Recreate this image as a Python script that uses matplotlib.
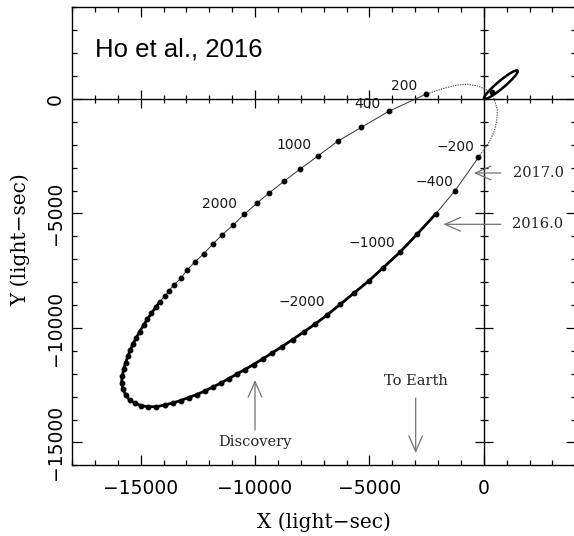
import numpy as np
import matplotlib.pyplot as plt
from matplotlib.patches import Ellipse
from matplotlib.ticker import MultipleLocator

# Pulsar orbit in light-sec, one dot every 200 days from periastron
step = 200
# after periastron: +200, +400, ... on toward apastron
upper_x = [-2544, -4154, -5351, -6390, -7250, -8026, -8715, -9373, -9925, -10469,
           -10952, -11434, -11855, -12237, -12618, -12969, -13246, -13553, -13759,
           -13947, -14167, -14342, -14531, -14706, -14869, -15044, -15189, -15338,
           -15452, -15557, -15658, -15746, -15803, -15833, -15776, -15658, -15483,
           -15233, -14970, -14680, -14312]
upper_y = [205, -537, -1236, -1847, -2489, -3057, -3581, -4092, -4555, -5035,
           -5502, -5926, -6345, -6756, -7105, -7468, -7830, -8123, -8372,
           -8603, -8852, -9097, -9359, -9621, -9869, -10162, -10424, -10699,
           -10961, -11223, -11516, -11804, -12097, -12389, -12678, -12926, -13145,
           -13289, -13394, -13437, -13437]
# before periastron: -200, -400, ... back toward apastron
lower_x = [-232, -1259, -2105, -2908, -3671, -4399, -5031, -5689, -6272, -6855,
           -7368, -7873, -8355, -8816, -9254, -9671, -10066, -10439, -10790, -11140,
           -11491, -11842, -12193, -12544, -12895, -13246, -13597, -13947]
lower_y = [-2546, -4004, -5022, -5895, -6695, -7367, -7948, -8485, -8965, -9433,
           -9826, -10175, -10503, -10808, -11092, -11354, -11594, -11813, -12009, -12206,
           -12402, -12577, -12752, -12905, -13035, -13166, -13276, -13363]
# fast swing round periastron, between the -200 d and +200 d dots
peri_x = [0, 263, 461, 570, 592, 482, 338, 88, -263, -702, -1154, -1741]
peri_y = [-2227, -1834, -1397, -917, -480, -87, 293, 415, 568, 642, 611, 467]
peri_dot = (338, 293)

# stretch drawn heavy: from +4200 d round apastron to -600 d
heavy_from = 4200
heavy_to = -600

# companion orbit about the centre of mass
comp_center = (746, 624)
comp_length = 1910
comp_width = 320
comp_angle = 40

labelled_days = [200, 400, 1000, 2000, -200, -400, -1000, -2000]
label_offsets = {200: (-15.5, 6), 400: (-15.5, 5.3), 1000: (-17, 8), 2000: (-18.2, 7.4),
                 -200: (-16.6, 7.6), -400: (-14.6, 6.5), -1000: (-19.9, 6.9),
                 -2000: (-18, 9.1)}

side_events = ['2017.0', '2016.0']
side_head_x = [-438, -1765]
side_head_y = [-3231, -5472]
side_tail_x = 745
side_text_x = [1270, 1213]

fig = plt.figure(figsize=(5.74, 5.36), dpi=100)
ax = fig.add_axes([72 / 574, 1 - 465.4 / 536, 503.5 / 574, 458 / 536])
ax.set_xlim(-18000, 4000 * 503.5 / 502.5)
ax.set_ylim(-16000, 4000)

# axes through the origin with ticks crossing them
ax.axhline(0, color='k', lw=1.0)
ax.axvline(0, color='k', lw=1.0)
xt = np.arange(-17000, 4000, 1000)
yt = np.arange(-15000, 4000, 1000)
xt_maj = xt[(xt % 5000 == 0) & (xt != 0)]
xt_min = xt[(xt % 5000 != 0)]
yt_maj = yt[(yt % 5000 == 0) & (yt != 0)]
yt_min = yt[(yt % 5000 != 0)]
ax.plot(xt_min, np.zeros(len(xt_min)), ls='none', marker='|', ms=6, mew=0.9, color='k')
ax.plot(xt_maj, np.zeros(len(xt_maj)), ls='none', marker='|', ms=13, mew=0.9, color='k')
ax.plot(np.zeros(len(yt_min)), yt_min, ls='none', marker='_', ms=6, mew=0.9, color='k')
ax.plot(np.zeros(len(yt_maj)), yt_maj, ls='none', marker='_', ms=13, mew=0.9, color='k')

# orbit line
ax.plot(upper_x + lower_x[::-1], upper_y + lower_y[::-1], color='0.2', lw=0.7)
ax.plot([lower_x[0]] + peri_x + [upper_x[0]], [lower_y[0]] + peri_y + [upper_y[0]],
        color='0.3', lw=0.8, ls=(0, (1.2, 1.0)))
i0 = heavy_from // step - 1
i1 = -heavy_to // step - 1
ax.plot(upper_x[i0:] + lower_x[::-1][:len(lower_x) - i1],
        upper_y[i0:] + lower_y[::-1][:len(lower_y) - i1],
        color='k', lw=2.0, solid_capstyle='round', solid_joinstyle='round')

ax.plot(upper_x, upper_y, 'o', color='k', ms=3.2)
ax.plot(lower_x, lower_y, 'o', color='k', ms=3.2)
ax.plot(*peri_dot, 'o', color='k', ms=3.2)

for d in labelled_days:
    i = abs(d) // step - 1
    px, py = (upper_x[i], upper_y[i]) if d > 0 else (lower_x[i], lower_y[i])
    ax.annotate(str(d).replace('-', '\u2212'), (px, py), xytext=label_offsets[d],
                textcoords='offset points', ha='center', va='center',
                fontsize=10, family='DejaVu Sans', color='0.1')

ax.add_patch(Ellipse(comp_center, comp_length, comp_width, angle=comp_angle,
                     fill=False, ec='k', lw=1.8))

# epoch markers
arrow = dict(arrowstyle='->,head_length=0.8,head_width=0.35', color='0.45', lw=0.9,
             shrinkA=0, shrinkB=0, mutation_scale=14)
for name, hx, hy, tx in zip(side_events, side_head_x, side_head_y, side_text_x):
    ax.annotate('', xy=(hx, hy), xytext=(side_tail_x, hy), arrowprops=arrow)
    ax.text(tx, hy, name, ha='left', va='center', fontsize=10.5,
            family='DejaVu Serif', color='0.15')

ax.annotate('', xy=(-10000, -12271), xytext=(-10000, -14454), arrowprops=arrow)
ax.text(-10000, -14965, 'Discovery', ha='center', va='center', fontsize=10.5,
        family='DejaVu Serif', color='0.15')
ax.annotate('', xy=(-2978, -15459), xytext=(-2978, -13057), arrowprops=arrow)
ax.text(-2978, -12314, 'To Earth', ha='center', va='center', fontsize=10.5,
        family='DejaVu Serif', color='0.15')

ax.xaxis.set_major_locator(MultipleLocator(5000))
ax.yaxis.set_major_locator(MultipleLocator(5000))
ax.xaxis.set_minor_locator(MultipleLocator(1000))
ax.yaxis.set_minor_locator(MultipleLocator(1000))
ax.tick_params(which='both', direction='in', top=True, right=True, width=0.9,
               labelsize=13.5, colors='k')
ax.tick_params(which='major', length=7.2)
ax.tick_params(which='minor', length=3.6)
ax.tick_params(axis='x', pad=10)
ax.tick_params(axis='y', pad=5)
for lab in ax.get_yticklabels():
    lab.set_rotation(90)
    lab.set_va('center')
for sp in ax.spines.values():
    sp.set_linewidth(1.0)

fig.text(324 / 574, 1 - 522 / 536, 'X (light\u2212sec)', ha='center', va='center',
         fontsize=14.5, family='DejaVu Serif')
fig.text(20 / 574, 1 - 240 / 536, 'Y (light\u2212sec)', ha='center', va='center',
         rotation=90, fontsize=14.5, family='DejaVu Serif')
fig.text(95 / 574, 1 - 49 / 536, 'Ho et al., 2016', ha='left', va='center',
         fontsize=18.5, family='Liberation Sans')

fig.savefig('out.png', dpi=100)
